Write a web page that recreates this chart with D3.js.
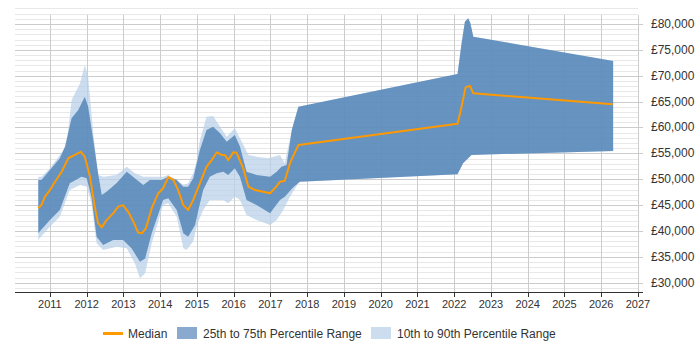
<!DOCTYPE html>
<html>
<head>
<meta charset="utf-8">
<script src="https://cdn.jsdelivr.net/npm/d3@7/dist/d3.min.js"></script>
<style>
  body { margin: 0; background: #fff; }
  svg { display: block; font-family: "Liberation Sans", Arial, sans-serif; }
</style>
</head>
<body>
<svg id="chart" width="700" height="350"></svg>
<script>
// Data: [decimal year, salary]
const median = [[2010.68,44400],[2010.77,45000],[2010.86,46600],[2011.0,47900],[2011.14,49500],[2011.32,51450],[2011.50,54050],[2011.68,54700],[2011.84,55300],[2011.95,54350],[2012.09,50500],[2012.22,44700],[2012.31,41500],[2012.41,40700],[2012.54,42100],[2012.72,43400],[2012.86,44700],[2012.99,45000],[2013.13,43700],[2013.27,41800],[2013.40,39700],[2013.50,39550],[2013.61,40500],[2013.77,44400],[2013.95,47300],[2014.08,48250],[2014.22,50400],[2014.36,49850],[2014.49,47900],[2014.63,45000],[2014.76,44050],[2014.90,46000],[2015.08,49200],[2015.26,52400],[2015.40,53700],[2015.54,55200],[2015.67,54700],[2015.76,54700],[2015.85,53700],[2015.99,55200],[2016.08,55100],[2016.26,52100],[2016.40,48560],[2016.58,47900],[2016.99,47300],[2017.12,48250],[2017.26,49500],[2017.39,49700],[2017.53,53100],[2017.76,56600],[2022.09,60700],[2022.20,64000],[2022.31,67800],[2022.43,68000],[2022.52,66600],[2026.31,64500]];

const p75 = [[2010.68,49850],[2010.77,49850],[2011.0,51800],[2011.27,54050],[2011.41,56300],[2011.59,61800],[2011.77,63400],[2011.95,65950],[2012.04,64000],[2012.18,57600],[2012.31,51150],[2012.41,46950],[2012.54,47600],[2012.81,49200],[2013.09,51450],[2013.31,50200],[2013.54,48900],[2013.72,49850],[2014.04,49850],[2014.22,50500],[2014.45,49850],[2014.63,48560],[2014.76,48560],[2014.90,50200],[2015.08,55650],[2015.26,59500],[2015.44,60160],[2015.63,58880],[2015.81,57250],[2016.03,58550],[2016.17,56300],[2016.35,51450],[2016.62,50820],[2016.99,50500],[2017.17,51450],[2017.30,52420],[2017.44,52750],[2017.58,59500],[2017.76,64000],[2022.09,70340],[2022.20,76270],[2022.29,80450],[2022.38,81100],[2022.44,80140],[2022.52,77550],[2026.33,72860]];

const p25 = [[2010.68,39550],[2011.0,42120],[2011.27,44050],[2011.54,49200],[2011.86,50500],[2012.0,50180],[2012.13,46600],[2012.27,38900],[2012.45,37300],[2012.72,38250],[2012.99,38250],[2013.22,36650],[2013.45,34060],[2013.59,34700],[2013.77,39550],[2014.08,46000],[2014.22,46300],[2014.45,44050],[2014.63,39550],[2014.76,38900],[2014.95,41150],[2015.04,44050],[2015.17,47900],[2015.35,50500],[2015.54,51150],[2015.72,51450],[2015.85,50820],[2016.03,52100],[2016.17,50500],[2016.35,46000],[2016.62,45000],[2016.99,43400],[2017.12,44700],[2017.26,46000],[2017.39,46600],[2017.62,48440],[2017.80,49500],[2022.09,50950],[2022.24,53080],[2022.47,54700],[2026.33,55460]];

const p90 = [[2010.68,50500],[2010.77,50500],[2011.0,52100],[2011.27,54700],[2011.45,56300],[2011.59,65300],[2011.82,68550],[2011.95,72080],[2012.04,69820],[2012.18,58880],[2012.31,50820],[2012.45,50500],[2012.81,50820],[2013.09,52420],[2013.31,51150],[2013.54,50500],[2013.72,50500],[2014.08,50500],[2014.22,50820],[2014.45,49850],[2014.63,48890],[2014.76,49200],[2014.90,51150],[2014.99,53500],[2015.08,57500],[2015.26,62090],[2015.44,62220],[2015.63,60160],[2015.81,58230],[2016.03,59850],[2016.22,57250],[2016.40,54700],[2016.62,54360],[2016.94,54050],[2017.26,54700],[2017.39,53080],[2017.58,59500],[2017.76,64000],[2022.09,70340],[2022.20,76270],[2022.29,80450],[2022.38,81100],[2022.44,80140],[2022.52,77550],[2026.33,72860]];

const p10 = [[2010.68,38250],[2011.0,40830],[2011.27,42760],[2011.54,47900],[2011.82,48890],[2012.0,48560],[2012.13,45350],[2012.27,37620],[2012.45,36320],[2012.81,36960],[2013.09,36650],[2013.31,33750],[2013.45,30850],[2013.59,31820],[2013.77,37620],[2014.08,45000],[2014.22,45350],[2014.45,42760],[2014.63,36650],[2014.72,36320],[2014.90,38000],[2015.0,41150],[2015.17,44050],[2015.35,46000],[2015.72,46000],[2015.85,45350],[2016.03,46600],[2016.17,46000],[2016.35,43090],[2016.62,42120],[2016.99,41150],[2017.17,42120],[2017.35,44050],[2017.53,46600],[2017.76,49200],[2017.80,49500],[2022.09,50950],[2022.24,53080],[2022.47,54700],[2026.33,55460]];

const xTicks = [2011,2012,2013,2014,2015,2016,2017,2018,2019,2020,2021,2022,2023,2024,2025,2026,2027];
const yTicks = [30000,35000,40000,45000,50000,55000,60000,65000,70000,75000,80000];
const legendLabels = ["Median","25th to 75th Percentile Range","10th to 90th Percentile Range"];

(function () {
const svg = d3.select("#chart");
const pl = 15, pr = 638, pt = 5, pb = 292;

const x = d3.scaleLinear().domain([2010.05, 2027]).range([pl, pr]);
const y = d3.scaleLinear().domain([30000, 80000]).range([282.7, 24]);
const yMax = y.invert(pt);
const curve = d3.curveLinear;

// Minor gridlines every 1000
const minor = d3.range(29000, 84000, 1000).filter(v => v % 5000 !== 0 && y(v) <= pb && y(v) >= pt);
svg.append("g").selectAll("line").data(minor).join("line")
  .attr("x1", pl).attr("x2", pr)
  .attr("y1", d => Math.round(y(d)) + 0.5).attr("y2", d => Math.round(y(d)) + 0.5)
  .attr("stroke", "#e8e8e8").attr("stroke-width", 1);

// Major horizontal gridlines
svg.append("g").selectAll("line").data(yTicks).join("line")
  .attr("x1", pl).attr("x2", pr + 5)
  .attr("y1", d => Math.round(y(d)) + 0.5).attr("y2", d => Math.round(y(d)) + 0.5)
  .attr("stroke", "#cccccc").attr("stroke-width", 1);

// Vertical gridlines
svg.append("g").selectAll("line").data(xTicks).join("line")
  .attr("x1", d => Math.round(x(d)) + 0.5).attr("x2", d => Math.round(x(d)) + 0.5)
  .attr("y1", pt + 10).attr("y2", pb)
  .attr("stroke", "#cccccc").attr("stroke-width", 1);

// Bands using clip paths
const defs = svg.append("defs");
function band(lower, upper, id, fill, opacity) {
  const aboveLower = d3.area().curve(curve)
    .x(d => x(d[0])).y0(y(yMax) - 20).y1(d => y(d[1]));
  defs.append("clipPath").attr("id", id).append("path").attr("d", aboveLower(lower));
  const belowUpper = d3.area().curve(curve)
    .x(d => x(d[0])).y0(pb + 20).y1(d => y(d[1]));
  svg.append("path").attr("d", belowUpper(upper))
    .attr("clip-path", `url(#${id})`)
    .attr("fill", fill).attr("fill-opacity", opacity);
}
band(p10, p90, "clip1090", "#b9d1ea", 0.75);
band(p25, p75, "clip2575", "#4a7db3", 0.78);

// Median line
svg.append("path")
  .attr("d", d3.line().curve(curve).x(d => x(d[0])).y(d => y(d[1]))(median))
  .attr("fill", "none").attr("stroke", "#ff9900").attr("stroke-width", 2)
  .attr("stroke-linejoin", "round");

// X axis
svg.append("line").attr("x1", pl).attr("x2", pr + 5)
  .attr("y1", pb + 0.5).attr("y2", pb + 0.5).attr("stroke", "#333").attr("stroke-width", 1);
svg.append("g").selectAll("line").data(xTicks).join("line")
  .attr("x1", d => Math.round(x(d)) + 0.5).attr("x2", d => Math.round(x(d)) + 0.5)
  .attr("y1", pb).attr("y2", pb + 5).attr("stroke", "#333");
svg.append("g").selectAll("text").data(xTicks).join("text")
  .attr("x", d => x(d)).attr("y", 308)
  .attr("text-anchor", "middle").attr("font-size", "11px").attr("fill", "#333")
  .text(d => d);

// Y axis labels (right)
const fmt = d3.format(",");
svg.append("g").selectAll("text").data(yTicks).join("text")
  .attr("x", 651).attr("y", d => y(d) + 4)
  .attr("text-anchor", "start").attr("font-size", "12px").attr("fill", "#333")
  .text(d => "£" + fmt(d));

// Legend
const lg = svg.append("g");
lg.append("line").attr("x1", 103).attr("x2", 123).attr("y1", 333.5).attr("y2", 333.5)
  .attr("stroke", "#ff9900").attr("stroke-width", 3);
lg.append("text").attr("x", 128).attr("y", 338).attr("font-size", "12px").attr("fill", "#333").text(legendLabels[0]);
lg.append("rect").attr("x", 177).attr("y", 327).attr("width", 20).attr("height", 12)
  .attr("fill", "#4a7db3").attr("fill-opacity", 0.65);
lg.append("text").attr("x", 203).attr("y", 338).attr("font-size", "12px").attr("fill", "#333").text(legendLabels[1]);
lg.append("rect").attr("x", 371).attr("y", 327).attr("width", 20).attr("height", 12)
  .attr("fill", "#b9d1ea").attr("fill-opacity", 0.75);
lg.append("text").attr("x", 397).attr("y", 338).attr("font-size", "12px").attr("fill", "#333").text(legendLabels[2]);
})();
</script>
</body>
</html>
